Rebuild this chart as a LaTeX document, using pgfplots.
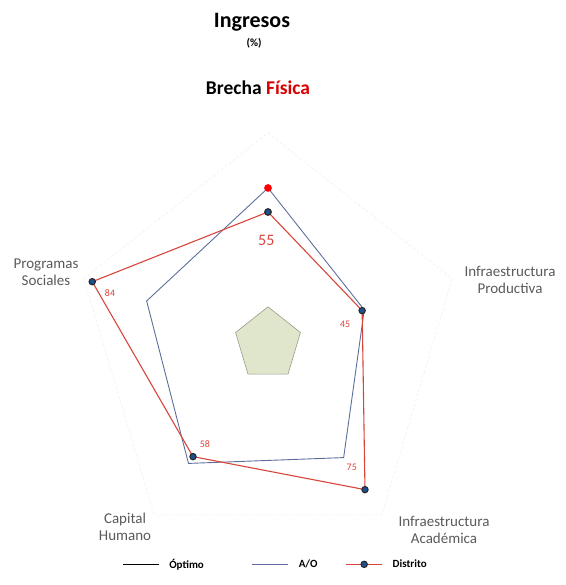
\documentclass[border=0pt]{standalone}
\usepackage{pgfplots}
\pgfplotsset{compat=1.18}
\usepgfplotslibrary{polar}
\usepackage{fontspec}
\setmainfont{Carlito}
\definecolor{dred}{HTML}{D8453B}
\definecolor{aoblue}{HTML}{5C6F9C}
\definecolor{optfill}{HTML}{DFE6CC}
\definecolor{optdraw}{HTML}{9A9C88}
\definecolor{navydot}{HTML}{1F4E8C}
\definecolor{lblgray}{HTML}{5A5A5A}
\begin{document}
\begin{tikzpicture}[x=1pt,y=1pt]
\useasboundingbox (0,0) rectangle (565,585);
\begin{polaraxis}[
  at={(268pt,241pt)}, anchor=center,
  scale only axis, width=396pt, height=432pt,
  xmin=0, xmax=360, ymin=0, ymax=90,
  hide axis, clip=false,
  legend columns=3,
  legend style={draw=none, fill=none, font=\fontsize{11}{13}\selectfont\bfseries,
    at={(0.124,-0.01)}, anchor=west,
    /tikz/every odd column/.append style={column sep=8pt},
    /tikz/every even column/.append style={column sep=26pt}},
  legend image code/.code={\draw[mark repeat=2,mark phase=2,#1] plot coordinates {(0pt,0pt) (18pt,0pt) (36pt,0pt)};},
]
% faint grid
\addplot[forget plot, gray!14, densely dashed, line width=0.5pt] coordinates {(90,88) (18,88) (-54,88) (-126,88) (162,88) (90,88)};
% Optimo area
\addplot[forget plot, fill=optfill, draw=optdraw, line width=0.6pt] coordinates {(90,15.5) (18,15.5) (-54,15.5) (-126,15.5) (162,15.5) (90,15.5)};
\addlegendimage{black, line width=1pt}
\addlegendentry{Óptimo\hspace*{20pt}}
% A/O
\addplot[aoblue, line width=0.9pt] coordinates {(90,65) (18,46) (-54,58.5) (-126,61.5) (162,58) (90,65)};
\addlegendentry{A/O}
% Distrito
\addplot[dred, line width=1.1pt, mark=*, mark size=3.2pt, mark options={fill=navydot, draw=black!85, line width=1pt}] coordinates {(90,55) (18,45) (-54,75) (-126,58) (162,84) (90,55)};
\addlegendentry{Distrito}
% highlighted point
\addplot[forget plot, only marks, mark=*, mark size=3.6pt, color=red] coordinates {(90,65)};
% value labels
\node[text=dred, font=\fontsize{16}{18}\selectfont] at (axis cs:91,43) {55};
\node[text=dred, font=\fontsize{10}{12}\selectfont] at (axis cs:13.3,36) {45};
\node[text=dred, font=\fontsize{10}{12}\selectfont] at (axis cs:-53.5,64) {75};
\node[text=dred, font=\fontsize{10}{12}\selectfont] at (axis cs:235.5,50.6) {58};
\node[text=dred, font=\fontsize{10}{12}\selectfont] at (axis cs:163.5,74.9) {84};
\end{polaraxis}
\node[font=\fontsize{22}{24}\selectfont\bfseries] at (252,563) {Ingresos};
\node[font=\fontsize{11}{13}\selectfont\bfseries] at (254,542) {(\%)};
\node[font=\fontsize{19.5}{22}\selectfont\bfseries] at (258,497) {Brecha \textcolor{red!85!black}{Física}};
\node[text=lblgray, font=\fontsize{15}{17.5}\selectfont, align=center] at (46,313) {Programas\\Sociales};
\node[text=lblgray, font=\fontsize{15}{17.5}\selectfont, align=center] at (510,305) {Infraestructura\\Productiva};
\node[text=lblgray, font=\fontsize{15}{17.5}\selectfont, align=center] at (125,58) {Capital\\Humano};
\node[text=lblgray, font=\fontsize{15}{17.5}\selectfont, align=center] at (444,55) {Infraestructura\\Académica};
\end{tikzpicture}
\end{document}
